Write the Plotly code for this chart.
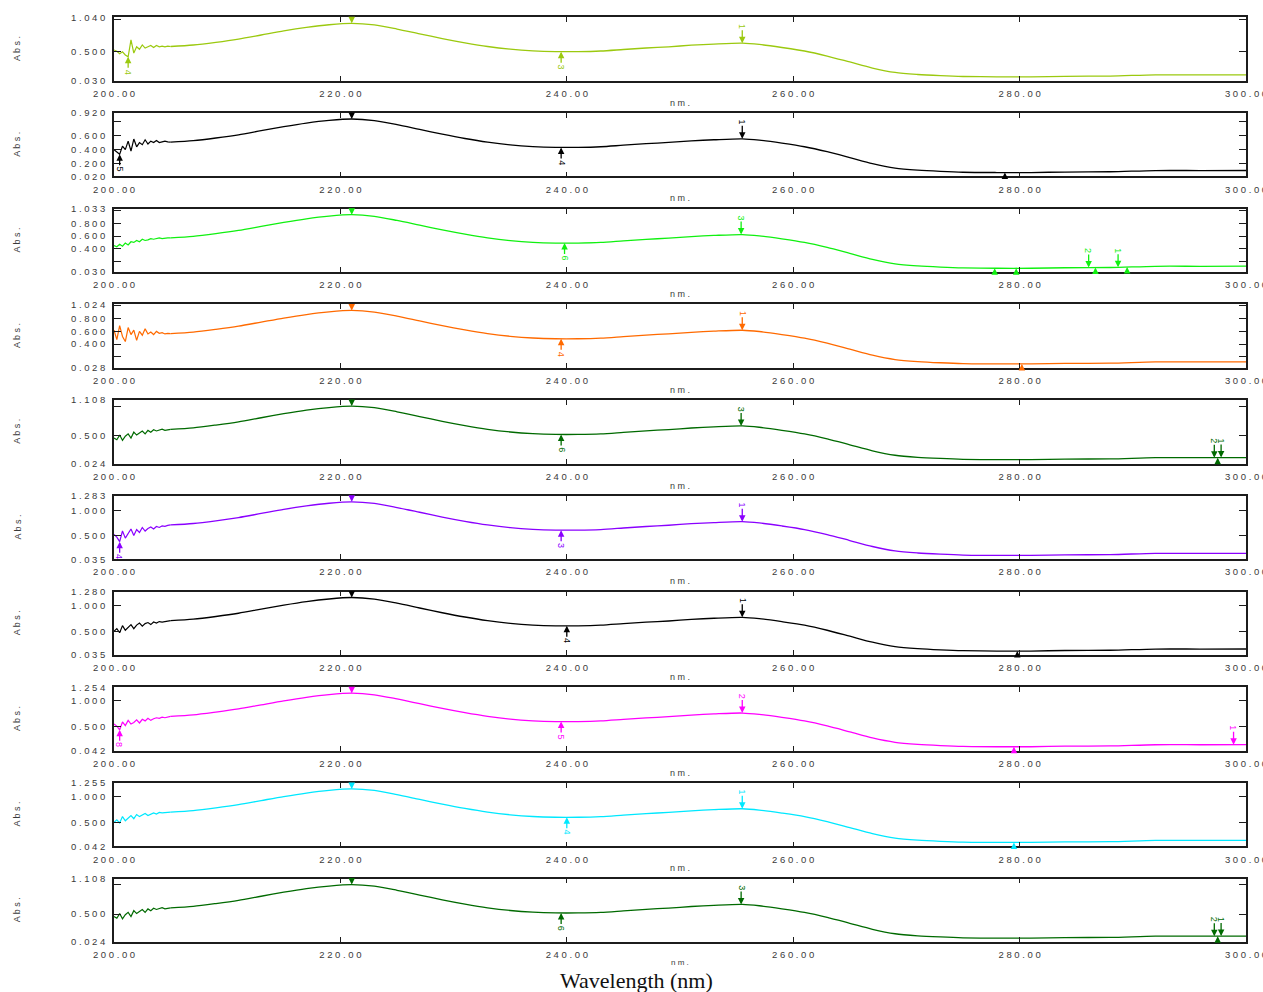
import numpy as np
import plotly.graph_objects as go

# ---------------------------------------------------------------- data
# Noisy start of every scan (200.00 - 204.75 nm, 0.25 nm step)
WL_EDGE = [200.00, 200.25, 200.50, 200.75, 201.00, 201.25, 201.50, 201.75, 202.00, 202.25,
           202.50, 202.75, 203.00, 203.25, 203.50, 203.75, 204.00, 204.25, 204.50, 204.75]
# Main absorption band and baseline (205 - 300 nm)
WL_BAND = [205, 207, 209, 211, 213, 215, 217, 219, 221, 223,
           225, 227, 229, 231, 233, 235, 237, 239, 241, 243,
           245, 247, 249, 251, 253, 255.5, 257, 259, 261, 263,
           265, 267, 269, 271, 273, 275, 278, 281, 284, 288,
           292, 296, 300]

P1_EDGE = [0.52, 0.50, 0.46, 0.49, 0.44, 0.41, 0.68, 0.47, 0.57, 0.53,
           0.60, 0.55, 0.57, 0.59, 0.56, 0.59, 0.57, 0.58, 0.57, 0.58]
P1_BAND = [0.575, 0.599, 0.642, 0.694, 0.758, 0.823, 0.878, 0.921, 0.944, 0.919,
           0.853, 0.777, 0.702, 0.634, 0.575, 0.532, 0.505, 0.493, 0.493, 0.503,
           0.527, 0.551, 0.570, 0.596, 0.614, 0.628, 0.608, 0.559, 0.503, 0.423,
           0.328, 0.232, 0.161, 0.129, 0.110, 0.097, 0.092, 0.092, 0.100, 0.104,
           0.123, 0.123, 0.124]

P2_EDGE = [0.40, 0.37, 0.335, 0.45, 0.40, 0.52, 0.38, 0.55, 0.44, 0.50,
           0.47, 0.54, 0.48, 0.52, 0.50, 0.53, 0.50, 0.51, 0.52, 0.51]
P2_BAND = [0.506, 0.527, 0.565, 0.611, 0.669, 0.726, 0.776, 0.814, 0.835, 0.812,
           0.754, 0.686, 0.619, 0.558, 0.506, 0.467, 0.443, 0.432, 0.432, 0.441,
           0.463, 0.484, 0.502, 0.524, 0.540, 0.553, 0.535, 0.492, 0.441, 0.370,
           0.286, 0.200, 0.137, 0.108, 0.091, 0.079, 0.075, 0.075, 0.082, 0.086,
           0.103, 0.103, 0.104]

P3_EDGE = [0.45, 0.43, 0.47, 0.44, 0.49, 0.46, 0.51, 0.50, 0.53, 0.51,
           0.55, 0.53, 0.54, 0.56, 0.55, 0.56, 0.57, 0.56, 0.57, 0.57]
P3_BAND = [0.572, 0.595, 0.638, 0.689, 0.753, 0.817, 0.873, 0.915, 0.938, 0.913,
           0.847, 0.772, 0.697, 0.630, 0.572, 0.529, 0.501, 0.489, 0.489, 0.499,
           0.524, 0.548, 0.567, 0.592, 0.610, 0.624, 0.604, 0.556, 0.499, 0.420,
           0.326, 0.231, 0.160, 0.128, 0.109, 0.096, 0.091, 0.091, 0.099, 0.103,
           0.122, 0.122, 0.123]

P4_EDGE = [0.62, 0.47, 0.69, 0.52, 0.44, 0.66, 0.55, 0.62, 0.46, 0.60,
           0.54, 0.64, 0.56, 0.59, 0.55, 0.60, 0.57, 0.58, 0.56, 0.57]
P4_BAND = [0.566, 0.589, 0.632, 0.682, 0.746, 0.810, 0.865, 0.906, 0.929, 0.904,
           0.840, 0.765, 0.690, 0.624, 0.566, 0.523, 0.496, 0.484, 0.484, 0.494,
           0.518, 0.542, 0.561, 0.586, 0.604, 0.618, 0.598, 0.550, 0.494, 0.415,
           0.322, 0.227, 0.158, 0.126, 0.107, 0.094, 0.089, 0.089, 0.097, 0.101,
           0.120, 0.120, 0.121]

P5_EDGE = [0.46, 0.43, 0.51, 0.42, 0.49, 0.53, 0.46, 0.56, 0.51, 0.55,
           0.58, 0.53, 0.59, 0.56, 0.60, 0.58, 0.59, 0.61, 0.59, 0.60]
P5_BAND = [0.609, 0.634, 0.681, 0.736, 0.806, 0.875, 0.935, 0.980, 1.005, 0.978,
           0.908, 0.827, 0.745, 0.672, 0.609, 0.563, 0.534, 0.521, 0.521, 0.531,
           0.557, 0.583, 0.604, 0.631, 0.651, 0.666, 0.644, 0.592, 0.531, 0.446,
           0.344, 0.241, 0.165, 0.130, 0.110, 0.096, 0.090, 0.090, 0.099, 0.103,
           0.124, 0.124, 0.125]

P6_EDGE = [0.52, 0.47, 0.38, 0.59, 0.45, 0.55, 0.63, 0.50, 0.62, 0.56,
           0.66, 0.59, 0.64, 0.67, 0.63, 0.68, 0.66, 0.69, 0.68, 0.70]
P6_BAND = [0.709, 0.738, 0.791, 0.855, 0.935, 1.015, 1.083, 1.136, 1.164, 1.133,
           1.052, 0.959, 0.865, 0.781, 0.709, 0.655, 0.622, 0.607, 0.607, 0.619,
           0.649, 0.679, 0.703, 0.734, 0.756, 0.774, 0.749, 0.689, 0.619, 0.521,
           0.403, 0.285, 0.197, 0.157, 0.134, 0.117, 0.111, 0.111, 0.121, 0.126,
           0.150, 0.150, 0.151]

P7_EDGE = [0.50, 0.55, 0.47, 0.61, 0.52, 0.57, 0.63, 0.55, 0.62, 0.66,
           0.60, 0.65, 0.67, 0.63, 0.68, 0.66, 0.69, 0.68, 0.69, 0.70]
P7_BAND = [0.707, 0.736, 0.789, 0.853, 0.933, 1.012, 1.081, 1.133, 1.162, 1.131,
           1.050, 0.956, 0.863, 0.779, 0.708, 0.654, 0.620, 0.605, 0.605, 0.618,
           0.648, 0.677, 0.701, 0.732, 0.755, 0.772, 0.747, 0.687, 0.618, 0.519,
           0.402, 0.284, 0.197, 0.157, 0.133, 0.117, 0.111, 0.111, 0.121, 0.126,
           0.150, 0.150, 0.151]

P8_EDGE = [0.55, 0.51, 0.44, 0.59, 0.52, 0.62, 0.55, 0.58, 0.63, 0.57,
           0.64, 0.61, 0.66, 0.62, 0.65, 0.67, 0.66, 0.68, 0.67, 0.69]
P8_BAND = [0.697, 0.724, 0.777, 0.838, 0.916, 0.993, 1.060, 1.111, 1.139, 1.109,
           1.030, 0.939, 0.848, 0.767, 0.697, 0.644, 0.612, 0.597, 0.597, 0.609,
           0.638, 0.667, 0.690, 0.721, 0.743, 0.760, 0.735, 0.677, 0.609, 0.514,
           0.400, 0.284, 0.200, 0.161, 0.138, 0.122, 0.116, 0.116, 0.126, 0.131,
           0.154, 0.154, 0.155]

P9_EDGE = [0.50, 0.55, 0.49, 0.61, 0.53, 0.58, 0.63, 0.57, 0.65, 0.61,
           0.64, 0.67, 0.63, 0.66, 0.68, 0.66, 0.69, 0.68, 0.69, 0.70]
P9_BAND = [0.697, 0.725, 0.777, 0.839, 0.917, 0.994, 1.061, 1.112, 1.140, 1.110,
           1.030, 0.939, 0.849, 0.767, 0.697, 0.645, 0.612, 0.598, 0.598, 0.610,
           0.639, 0.668, 0.691, 0.721, 0.743, 0.760, 0.736, 0.678, 0.610, 0.514,
           0.400, 0.285, 0.200, 0.161, 0.138, 0.122, 0.116, 0.116, 0.126, 0.131,
           0.154, 0.154, 0.155]

X_TICKS = [200, 220, 240, 260, 280, 300]
X_TICK_TEXT = ["200.00", "220.00", "240.00", "260.00", "280.00", "300.00"]

# Peak / valley picks: (wavelength, 'p' peak or 'v' valley, pick number)
P1_PICKS = [(201.25, "v", "4"), (221, "p", ""), (239.5, "v", "3"), (255.5, "p", "1")]
P2_PICKS = [(200.5, "v", "5"), (221, "p", ""), (239.5, "v", "4"), (255.5, "p", "1"),
            (278.7, "v", "")]
P3_PICKS = [(221, "p", ""), (239.8, "v", "6"), (255.4, "p", "3"), (277.8, "v", ""),
            (279.7, "v", ""), (286.1, "p", "2"), (286.7, "v", ""), (288.7, "p", "1"),
            (289.5, "v", "")]
P4_PICKS = [(221, "p", ""), (239.5, "v", "4"), (255.5, "p", "1"), (280.2, "v", "")]
P5_PICKS = [(221, "p", ""), (239.5, "v", "6"), (255.4, "p", "3"), (297.2, "p", "2"),
            (297.8, "p", "1"), (297.5, "v", "")]
P6_PICKS = [(200.5, "v", "4"), (221, "p", ""), (239.5, "v", "3"), (255.5, "p", "1")]
P7_PICKS = [(221, "p", ""), (240.0, "v", "4"), (255.5, "p", "1"), (279.8, "v", "")]
P8_PICKS = [(200.5, "v", "8"), (221, "p", ""), (239.5, "v", "5"), (255.5, "p", "2"),
            (279.5, "v", ""), (298.9, "p", "1")]
P9_PICKS = [(221, "p", ""), (240.0, "v", "4"), (255.5, "p", "1"), (279.5, "v", "")]

PANELS = [
    dict(edge=P1_EDGE, band=P1_BAND, color="#9BC90F", yrange=(0.030, 1.040),
         yticks=[0.030, 0.5, 1.0, 1.040], ylabels=["0.030", "0.500", "", "1.040"], picks=P1_PICKS),
    dict(edge=P2_EDGE, band=P2_BAND, color="#000000", yrange=(0.020, 0.920),
         yticks=[0.020, 0.2, 0.4, 0.6, 0.8, 0.920],
         ylabels=["0.020", "0.200", "0.400", "0.600", "", "0.920"], picks=P2_PICKS),
    dict(edge=P3_EDGE, band=P3_BAND, color="#10F010", yrange=(0.030, 1.033),
         yticks=[0.030, 0.2, 0.4, 0.6, 0.8, 1.0, 1.033],
         ylabels=["0.030", "", "0.400", "0.600", "0.800", "", "1.033"], picks=P3_PICKS),
    dict(edge=P4_EDGE, band=P4_BAND, color="#FF6A00", yrange=(0.028, 1.024),
         yticks=[0.028, 0.2, 0.4, 0.6, 0.8, 1.0, 1.024],
         ylabels=["0.028", "", "0.400", "0.600", "0.800", "", "1.024"], picks=P4_PICKS),
    dict(edge=P5_EDGE, band=P5_BAND, color="#006A00", yrange=(0.024, 1.108),
         yticks=[0.024, 0.5, 1.0, 1.108], ylabels=["0.024", "0.500", "", "1.108"], picks=P5_PICKS),
    dict(edge=P6_EDGE, band=P6_BAND, color="#8A00FF", yrange=(0.035, 1.283),
         yticks=[0.035, 0.5, 1.0, 1.283], ylabels=["0.035", "0.500", "1.000", "1.283"], picks=P6_PICKS),
    dict(edge=P7_EDGE, band=P7_BAND, color="#000000", yrange=(0.035, 1.280),
         yticks=[0.035, 0.5, 1.0, 1.280], ylabels=["0.035", "0.500", "1.000", "1.280"], picks=P7_PICKS),
    dict(edge=P8_EDGE, band=P8_BAND, color="#FF00FF", yrange=(0.042, 1.254),
         yticks=[0.042, 0.5, 1.0, 1.254], ylabels=["0.042", "0.500", "1.000", "1.254"], picks=P8_PICKS),
    dict(edge=P9_EDGE, band=P9_BAND, color="#00E8FF", yrange=(0.042, 1.255),
         yticks=[0.042, 0.5, 1.0, 1.255], ylabels=["0.042", "0.500", "1.000", "1.255"], picks=P9_PICKS),
    dict(edge=P5_EDGE, band=P5_BAND, color="#006A00", yrange=(0.024, 1.108),
         yticks=[0.024, 0.5, 1.0, 1.108], ylabels=["0.024", "0.500", "", "1.108"], picks=P5_PICKS),
]

# ---------------------------------------------------------------- layout
W, H = 1263, 992
X0, X1 = 114, 1246          # plot frame, px
TOP0, STEP, PH = 17.3, 95.7, 63.4
FRAME = "#1c1c1c"
TEXT = "#3a3a3a"
SANS = "Liberation Sans, Arial, sans-serif"


def spaced(s):
    """Letter-spaced label text as printed by the spectrometer software."""
    return " ".join(s)


fig = go.Figure()
layout = dict(width=W, height=H, margin=dict(l=0, r=0, t=0, b=0, autoexpand=False),
              paper_bgcolor="white", plot_bgcolor="white", showlegend=False)
annotations = []

for i, p in enumerate(PANELS):
    n = i + 1
    sfx = "" if n == 1 else str(n)
    xa, ya = "x" + sfx, "y" + sfx
    top = TOP0 + i * STEP
    bot = top + PH
    col = p["color"]

    # noisy start drawn straight, band smoothed
    fig.add_trace(go.Scatter(x=WL_EDGE + [WL_BAND[0]], y=p["edge"] + [p["band"][0]],
                             mode="lines", line=dict(color=col, width=1.2),
                             xaxis=xa, yaxis=ya, hoverinfo="skip"))
    fig.add_trace(go.Scatter(x=WL_BAND, y=p["band"], mode="lines",
                             line=dict(color=col, width=1.3, shape="spline", smoothing=0.8),
                             xaxis=xa, yaxis=ya, hoverinfo="skip"))

    common = dict(showline=True, linecolor=FRAME, linewidth=1.6, mirror="ticks",
                  ticks="inside", tickcolor=FRAME, tickwidth=1.3,
                  showgrid=False, zeroline=False, automargin=False,
                  tickfont=dict(family=SANS, size=9.5, color=TEXT))
    layout["xaxis" + sfx] = dict(domain=[X0 / W, X1 / W], range=[200, 300], anchor=ya,
                                 tickmode="array", tickvals=X_TICKS,
                                 ticktext=[spaced(t) for t in X_TICK_TEXT],
                                 ticklen=5, ticklabelstandoff=3, ticklabeloverflow="allow",
                                 **common)
    layout["yaxis" + sfx] = dict(domain=[1 - bot / H, 1 - top / H], range=list(p["yrange"]),
                                 anchor=xa, tickmode="array", tickvals=p["yticks"],
                                 ticktext=[spaced(t) for t in p["ylabels"]],
                                 ticklen=7, ticklabelstandoff=5, **common)

    # axis captions
    annotations.append(dict(text=spaced("Abs."), textangle=-90, showarrow=False,
                            xref="paper", x=17 / W, xanchor="center",
                            yref=ya + " domain", y=0.5, yanchor="middle",
                            font=dict(family=SANS, size=9, color=TEXT)))
    annotations.append(dict(text=spaced("nm."), showarrow=False,
                            xref=xa + " domain", x=0.5, xanchor="center",
                            yref=ya + " domain", y=0, yanchor="middle",
                            yshift=-22 if n < len(PANELS) else -20,
                            font=dict(family=SANS, size=9 if n < len(PANELS) else 8, color=TEXT)))

    # peak / valley pick arrows
    all_x = np.array(WL_EDGE + WL_BAND, dtype=float)
    all_y = np.array(p["edge"] + p["band"], dtype=float)
    for wl, kind, lab in p["picks"]:
        yv = float(np.interp(wl, all_x, all_y))
        arrow = dict(x=wl, y=yv, xref=xa, yref=ya, showarrow=True, arrowhead=2,
                     arrowsize=1.0, arrowwidth=1.3, arrowcolor=col)
        if lab == "":
            frame_edge = p["yrange"][1] if kind == "p" else p["yrange"][0]
            arrow.update(text="", axref=xa, ayref=ya, ax=wl, ay=frame_edge)
        else:
            arrow.update(text=lab, textangle=90, ax=0, ay=-17 if kind == "p" else 15,
                         font=dict(family=SANS, size=9, color=col))
        annotations.append(arrow)

annotations.append(dict(text="Wavelength (nm)", showarrow=False, xref="paper", yref="paper",
                        x=636 / W, xanchor="center", y=1 - 980 / H, yanchor="middle",
                        font=dict(family="Liberation Serif, Times New Roman, serif",
                                  size=22, color="#111111")))

layout["annotations"] = annotations
fig.update_layout(**layout)
fig.write_html("out.html")
